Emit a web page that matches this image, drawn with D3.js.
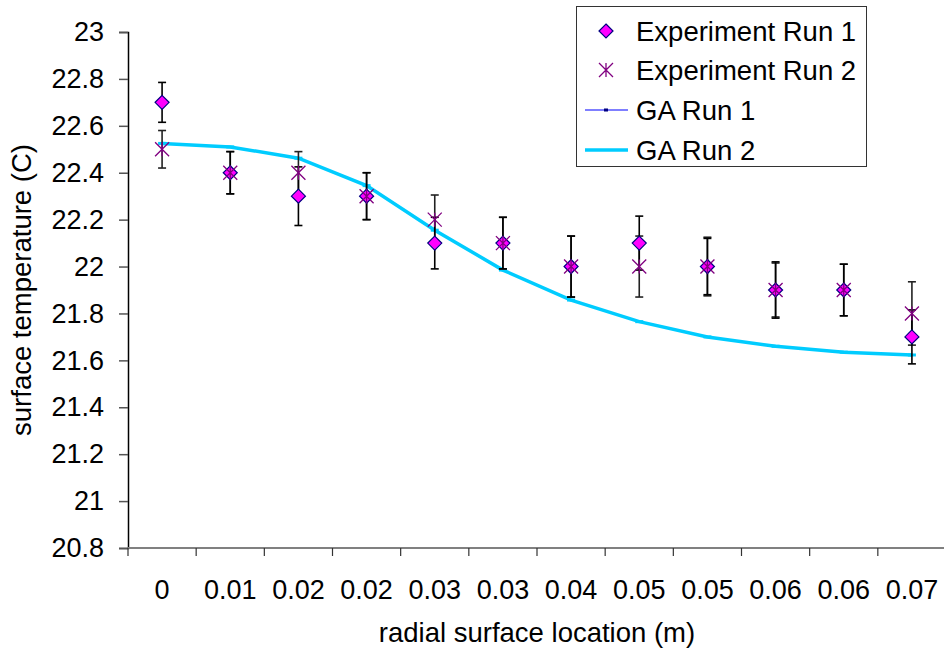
<!DOCTYPE html>
<html><head><meta charset="utf-8">
<script src="https://cdn.jsdelivr.net/npm/d3@7"></script>
<style>body{margin:0;background:#fff}svg{display:block}text{font-family:"Liberation Sans",Arial,Helvetica,sans-serif}</style>
</head><body><svg id="c" width="944" height="656"></svg>
<script>
const categories = ["0","0.01","0.02","0.02","0.03","0.03","0.04","0.05","0.05","0.06","0.06","0.07"];
const exp1 = [22.7,22.4,22.3,22.3,22.1,22.1,22.0,22.1,22.0,21.9,21.9,21.7];
const exp1Err = [0.085,0.09,0.125,0.1,0.11,0.11,0.13,0.115,0.12,0.12,0.11,0.115];
const exp2 = [22.5,22.4,22.4,22.3,22.2,22.1,22.0,22.0,22.0,21.9,21.9,21.8];
const exp2Err = [0.08,0.09,0.09,0.1,0.105,0.11,0.13,0.13,0.125,0.115,0.11,0.135];
const ga1 = [22.525,22.51,22.462,22.345,22.155,21.985,21.857,21.765,21.7,21.66,21.635,21.623];
const ga2 = [22.525,22.51,22.462,22.345,22.155,21.985,21.857,21.765,21.7,21.66,21.635,21.623];
const yTicks = [20.8,21,21.2,21.4,21.6,21.8,22,22.2,22.4,22.6,22.8,23];

const svg = d3.select("#c");
const L=128, R=946, T=32, B=548;
const x = d3.scaleBand().domain(d3.range(categories.length)).range([L,R]);
const y = d3.scaleLinear().domain([20.8,23]).range([B,T]);
const cx = i => x(i)+x.bandwidth()/2;
const FS = 27, FT = 27.5;

// y axis
const gy = svg.append("g").attr("transform",`translate(${L},0)`)
  .call(d3.axisLeft(y).tickValues(yTicks).tickSize(9).tickPadding(15).tickFormat(d=>d3.format("")(+d.toFixed(1))));
gy.select(".domain").attr("stroke","#000").attr("stroke-width",1.5);
gy.selectAll(".tick line").attr("stroke","#555").attr("stroke-width",1.5);
gy.selectAll(".tick text").attr("font-size",FS).attr("fill","#000").style("font-family","'Liberation Sans',Arial,sans-serif");

// x axis
svg.append("line").attr("x1",L).attr("x2",R).attr("y1",B).attr("y2",B).attr("stroke","#808080").attr("stroke-width",2);
svg.append("g").selectAll("line").data(d3.range(categories.length+1)).join("line")
  .attr("x1",i=>L+i*x.step()).attr("x2",i=>L+i*x.step()).attr("y1",B).attr("y2",B+8)
  .attr("stroke","#333").attr("stroke-width",1.2);
svg.append("g").selectAll("text").data(categories).join("text")
  .attr("x",(d,i)=>cx(i)).attr("y",599).attr("text-anchor","middle").attr("font-size",FS).text(d=>d);

// titles
svg.append("text").attr("x",(L+R)/2).attr("y",642).attr("text-anchor","middle").attr("font-size",FT).text("radial surface location (m)");
svg.append("text").attr("transform",`translate(31,${(T+B)/2}) rotate(-90)`).attr("text-anchor","middle").attr("font-size",FT).text("surface temperature (C)");

// GA lines
const line = d3.line().x((d,i)=>cx(i)).y(d=>y(d));
svg.append("path").datum(ga1).attr("d",line).attr("fill","none").attr("stroke","#0000ff").attr("stroke-width",1.2);
svg.append("path").datum(ga2).attr("d",line).attr("fill","none").attr("stroke","#00ccff").attr("stroke-width",3.5);
svg.append("g").selectAll("line").data(ga2).join("line")
  .attr("x1",(d,i)=>cx(i)-4).attr("x2",(d,i)=>cx(i)+4).attr("y1",d=>y(d)).attr("y2",d=>y(d))
  .attr("stroke","#00ccff").attr("stroke-width",3);

// error bars
function errBars(vals, errs, col){
  const g = svg.append("g").attr("stroke",col).attr("stroke-width",1.6);
  vals.forEach((v,i)=>{
    const X=cx(i), y1=y(v+errs[i]), y2=y(v-errs[i]);
    g.append("line").attr("x1",X).attr("x2",X).attr("y1",y1).attr("y2",y2);
    g.append("line").attr("x1",X-4).attr("x2",X+4).attr("y1",y1).attr("y2",y1);
    g.append("line").attr("x1",X-4).attr("x2",X+4).attr("y1",y2).attr("y2",y2);
  });
}
errBars(exp2, exp2Err, "#222");
errBars(exp1, exp1Err, "#000");

// markers
function diamond(g,X,Y){ const s=7; g.append("path").attr("d",`M${X},${Y-s}L${X+s},${Y}L${X},${Y+s}L${X-s},${Y}Z`).attr("fill","#ff00ff").attr("stroke","#000080").attr("stroke-width",1.2); }
function star(g,X,Y){ const s=7; g.append("path").attr("d",`M${X-s},${Y-s}L${X+s},${Y+s}M${X-s},${Y+s}L${X+s},${Y-s}M${X},${Y-s}L${X},${Y+s}`).attr("fill","none").attr("stroke","#800080").attr("stroke-width",1.3); }
const gm = svg.append("g");
exp1.forEach((v,i)=>diamond(gm,cx(i),y(v)));
exp2.forEach((v,i)=>star(gm,cx(i),y(v)));

// legend
const lg = svg.append("g");
lg.append("rect").attr("x",576.5).attr("y",6.5).attr("width",290).attr("height",160).attr("fill","#fff").attr("stroke","#333").attr("stroke-width",1);
const ly=[31,70,110,150], names=["Experiment Run 1","Experiment Run 2","GA Run 1","GA Run 2"];
diamond(lg,606,ly[0]); star(lg,606,ly[1]);
lg.append("line").attr("x1",585).attr("x2",628).attr("y1",ly[2]).attr("y2",ly[2]).attr("stroke","#0000ff").attr("stroke-width",1.2);
lg.append("rect").attr("x",604).attr("y",ly[2]-1.5).attr("width",4).attr("height",3).attr("fill","#000080");
lg.append("line").attr("x1",585).attr("x2",628).attr("y1",ly[3]).attr("y2",ly[3]).attr("stroke","#00ccff").attr("stroke-width",3.5);
names.forEach((n,i)=>lg.append("text").attr("x",636).attr("y",ly[i]+9.5).attr("font-size",FT).text(n));
</script></body></html>
